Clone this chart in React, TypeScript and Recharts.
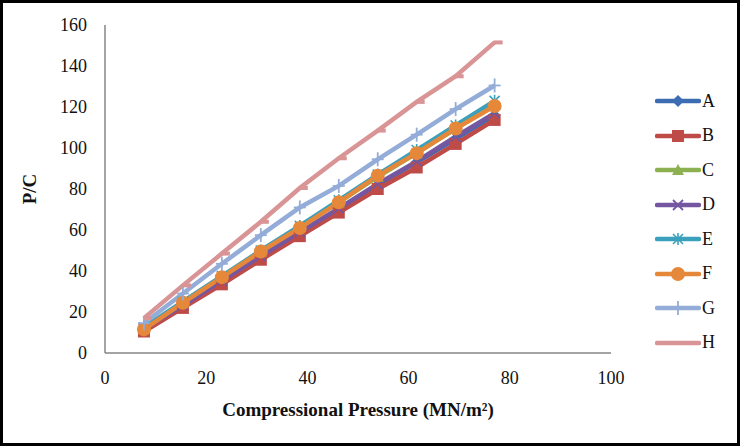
import { LineChart, Line, XAxis, YAxis, Label } from 'recharts'

const pressure = [7.7, 15.4, 23.1, 30.8, 38.5, 46.2, 53.9, 61.6, 69.3, 77]

const seriesA = [11.5, 23, 35, 47, 58.5, 70, 82, 93, 104.5, 116]
const seriesB = [10.5, 22, 33.5, 45.5, 57, 68.5, 80, 90.5, 102, 113.7]
const seriesC = [12, 24.5, 37, 49.5, 61.5, 73.5, 86, 97.5, 109.5, 121]
const seriesD = [11.8, 23.3, 35.3, 47.3, 59, 70.5, 82.5, 93.5, 105.5, 117]
const seriesE = [12.5, 25, 37.5, 50, 62, 74.5, 87, 99, 111, 123]
const seriesF = [11.5, 24.5, 37, 49.5, 61, 73.5, 86.5, 97.5, 109.5, 120.5]
const seriesG = [14.5, 29, 43.5, 57.5, 71, 81.5, 94.5, 106.5, 119, 130.5]
const seriesH = [17, 33, 48.5, 64, 80.5, 95, 108.5, 122.5, 135, 151.5]

const xTicks = [0, 20, 40, 60, 80, 100]
const yTicks = [0, 20, 40, 60, 80, 100, 120, 140, 160]

type Shape = 'diamond' | 'square' | 'triangle' | 'x' | 'star' | 'circle' | 'plus' | 'dash'

const SERIES: { key: string; values: number[]; color: string; shape: Shape }[] = [
  { key: 'A', values: seriesA, color: '#3c6db3', shape: 'diamond' },
  { key: 'B', values: seriesB, color: '#be4b48', shape: 'square' },
  { key: 'C', values: seriesC, color: '#8db150', shape: 'triangle' },
  { key: 'D', values: seriesD, color: '#7457a0', shape: 'x' },
  { key: 'E', values: seriesE, color: '#3aa0bc', shape: 'star' },
  { key: 'F', values: seriesF, color: '#e5883a', shape: 'circle' },
  { key: 'G', values: seriesG, color: '#93acd8', shape: 'plus' },
  { key: 'H', values: seriesH, color: '#d99495', shape: 'dash' },
]

const data = pressure.map((p, i) => {
  const row: Record<string, number> = { x: p }
  SERIES.forEach((s) => (row[s.key] = s.values[i]))
  return row
})

const FONT = '"Liberation Serif", serif'
const titleStyle = { fontFamily: FONT, fontSize: 19, fontWeight: 'bold', fill: '#111' }

function XTick({ x, y, payload }: any) {
  return (
    <text x={x} y={y + 13} textAnchor="middle" style={{ fontFamily: FONT, fontSize: 18, fill: '#111' }}>
      {payload.value}
    </text>
  )
}

function YTick({ x, y, payload }: any) {
  return (
    <text x={x} y={y + 6} textAnchor="end" style={{ fontFamily: FONT, fontSize: 18, fill: '#111' }}>
      {payload.value}
    </text>
  )
}

function Marker({ cx, cy, shape, color }: { cx: number; cy: number; shape: Shape; color: string }) {
  switch (shape) {
    case 'diamond':
      return <polygon points={`${cx},${cy - 6} ${cx + 6},${cy} ${cx},${cy + 6} ${cx - 6},${cy}`} fill={color} />
    case 'square':
      return <rect x={cx - 6} y={cy - 6} width={12} height={12} fill={color} />
    case 'triangle':
      return <polygon points={`${cx},${cy - 6} ${cx + 6},${cy + 5} ${cx - 6},${cy + 5}`} fill={color} />
    case 'x':
      return (
        <g stroke={color} strokeWidth={1.8}>
          <line x1={cx - 5} y1={cy - 5} x2={cx + 5} y2={cy + 5} />
          <line x1={cx - 5} y1={cy + 5} x2={cx + 5} y2={cy - 5} />
        </g>
      )
    case 'star':
      return (
        <g stroke={color} strokeWidth={1.6}>
          <line x1={cx - 5} y1={cy - 5} x2={cx + 5} y2={cy + 5} />
          <line x1={cx - 5} y1={cy + 5} x2={cx + 5} y2={cy - 5} />
          <line x1={cx} y1={cy - 6} x2={cx} y2={cy + 6} />
        </g>
      )
    case 'circle':
      return <circle cx={cx} cy={cy} r={7} fill={color} />
    case 'plus':
      return (
        <g stroke={color} strokeWidth={1.8}>
          <line x1={cx - 6} y1={cy} x2={cx + 6} y2={cy} />
          <line x1={cx} y1={cy - 7} x2={cx} y2={cy + 7} />
        </g>
      )
    case 'dash':
      return <rect x={cx - 1} y={cy - 2} width={9} height={4} fill={color} />
  }
}

// legend sits outside the chart so it doesn't eat into the plot width
function LegendBox() {
  return (
    <div style={{ position: 'absolute', left: 655, top: 84, fontFamily: FONT, fontSize: 18, color: '#111' }}>
      {SERIES.map((s) => (
        <div key={s.key} style={{ display: 'flex', alignItems: 'center', height: 34.5 }}>
          <svg width={46} height={14}>
            <line x1={2} y1={7} x2={44} y2={7} stroke={s.color} strokeWidth={4.5} strokeLinecap="round" />
            {s.shape !== 'dash' && <Marker cx={23} cy={7} shape={s.shape} color={s.color} />}
          </svg>
          <span style={{ marginLeft: 1 }}>{s.key}</span>
        </div>
      ))}
    </div>
  )
}

export default function App() {
  return (
    <div style={{ position: 'fixed', left: 0, top: 0, width: 740, height: 446, background: '#fff', fontFamily: FONT }}>
      <LineChart
        width={740}
        height={446}
        data={data}
        margin={{ top: 25, right: 129, bottom: 63, left: 45 }}
        style={{ position: 'absolute', left: 0, top: 0 }}
      >
        <XAxis
          dataKey="x"
          type="number"
          domain={[0, 100]}
          ticks={xTicks}
          height={30}
          tickLine={false}
          tickSize={6}
          tickMargin={12}
          axisLine={{ stroke: '#868686', strokeWidth: 1.5 }}
          tick={<XTick />}
        >
          <Label value="Compressional Pressure (MN/m²)" position="insideBottom" offset={-33} style={titleStyle} />
        </XAxis>
        <YAxis
          type="number"
          domain={[0, 160]}
          ticks={yTicks}
          width={60}
          tickLine={false}
          tickSize={6}
          tickMargin={12}
          axisLine={{ stroke: '#868686', strokeWidth: 1.5 }}
          tick={<YTick />}
        >
          <Label
            value="P/C"
            angle={-90}
            position="insideLeft"
            offset={-16}
            style={{ ...titleStyle, textAnchor: 'middle' }}
          />
        </YAxis>
        {SERIES.map((s) => (
          <Line
            key={s.key}
            dataKey={s.key}
            stroke={s.color}
            strokeWidth={4.5}
            isAnimationActive={false}
            dot={(p: any) => (
              <g key={`${s.key}-${p.index}`}>
                <Marker cx={p.cx} cy={p.cy} shape={s.shape} color={s.color} />
              </g>
            )}
            activeDot={false}
          />
        ))}
      </LineChart>
      <LegendBox />
      <div
        style={{
          position: 'absolute',
          left: 0,
          top: 0,
          width: 740,
          height: 446,
          boxSizing: 'border-box',
          border: '3px solid #000',
          pointerEvents: 'none',
        }}
      />
    </div>
  )
}
